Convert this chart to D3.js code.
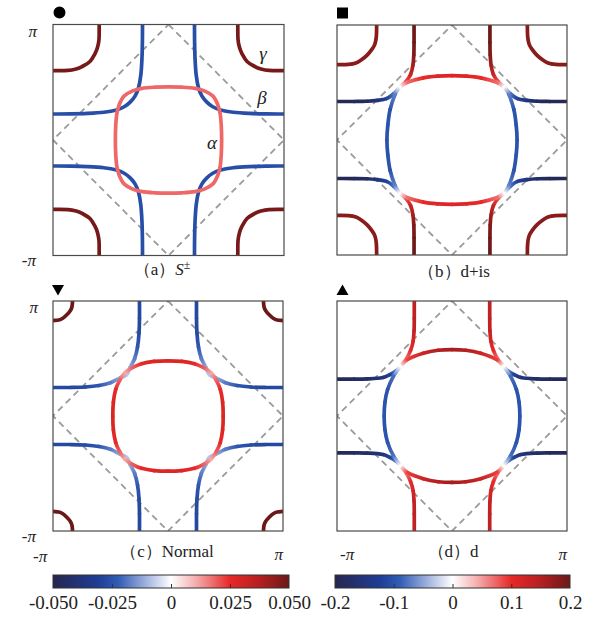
<!DOCTYPE html>
<html>
<head>
<meta charset="utf-8">
<script src="https://cdnjs.cloudflare.com/ajax/libs/d3/7.8.5/d3.min.js"></script>
<style>
body { margin: 0; background: #fff; }
text { font-family: 'Liberation Serif', 'DejaVu Serif', serif; }
</style>
</head>
<body>
<script>
const w = 590
const h = 617

// Fermi surface pieces, first quadrant only: [kx/pi, ky/pi, gap]
// they get mirrored into the other three quadrants

// (a) S+-
const aAlpha = [[0.46,0,0.018],[0.457,0.12,0.018],[0.447,0.23,0.018],[0.425,0.31,0.018],[0.385,0.38,0.018],
	[0.31,0.425,0.018],[0.23,0.447,0.018],[0.12,0.457,0.018],[0,0.46,0.018]]
const aBeta = [[0.225,1,-0.026],[0.226,0.85,-0.026],[0.23,0.7,-0.026],[0.24,0.56,-0.026],[0.26,0.45,-0.026],
	[0.29,0.38,-0.026],[0.33,0.33,-0.026],[0.38,0.29,-0.026],[0.45,0.26,-0.026],[0.56,0.24,-0.026],
	[0.7,0.23,-0.026],[0.85,0.226,-0.026],[1,0.225,-0.026]]
const aGamma = [[0.6,1,0.048],[0.602,0.87,0.048],[0.615,0.8,0.048],[0.636,0.748,0.048],[0.68,0.68,0.048],
	[0.748,0.636,0.048],[0.8,0.615,0.048],[0.87,0.602,0.048],[1,0.6,0.048]]

// (b) d+is
const bVArm = [[0.33,1,0.2],[0.33,0.85,0.195],[0.332,0.74,0.185],[0.34,0.65,0.16],[0.36,0.57,0.13],[0.40,0.51,0.085],[0.455,0.46,0]]
const bHArm = [[1,0.335,-0.195],[0.85,0.335,-0.19],[0.74,0.337,-0.18],[0.65,0.345,-0.15],[0.57,0.36,-0.12],[0.51,0.40,-0.08],[0.455,0.46,0]]
const bTopArc = [[0.455,0.46,0],[0.393,0.5,0.07],[0.25,0.54,0.1],[0.125,0.555,0.11],[0,0.559,0.11]]
const bSideArc = [[0.455,0.46,0],[0.495,0.395,-0.07],[0.538,0.265,-0.1],[0.558,0.13,-0.1],[0.566,0,-0.1]]
const bGamma = [[0.655,1,0.18],[0.658,0.9,0.18],[0.67,0.835,0.18],[0.695,0.79,0.18],[0.738,0.738,0.18],
	[0.79,0.695,0.18],[0.835,0.67,0.18],[0.9,0.658,0.18],[1,0.655,0.18]]

// (c) Normal
const cAlpha = [[0.48,0,0.028],[0.475,0.12,0.028],[0.455,0.23,0.025],[0.42,0.31,0.019],[0.375,0.375,0.011],
	[0.31,0.42,0.019],[0.23,0.455,0.025],[0.12,0.475,0.028],[0,0.48,0.028]]
const cBeta = [[0.248,1,-0.028],[0.248,0.85,-0.028],[0.252,0.72,-0.027],[0.265,0.6,-0.024],[0.29,0.5,-0.018],
	[0.33,0.42,-0.012],[0.36,0.36,-0.008],[0.42,0.33,-0.012],[0.5,0.29,-0.018],[0.6,0.265,-0.024],
	[0.72,0.252,-0.027],[0.85,0.248,-0.028],[1,0.248,-0.028]]
const cGamma = [[0.83,1,0.05],[0.835,0.95,0.05],[0.85,0.915,0.05],[0.88,0.88,0.05],[0.915,0.85,0.05],[0.95,0.835,0.05],[1,0.83,0.05]]

// (d) d
const dVArm = [[0.328,1,0.14],[0.328,0.85,0.14],[0.33,0.74,0.135],[0.338,0.65,0.12],[0.36,0.57,0.1],[0.395,0.5,0.07],[0.45,0.43,0]]
const dHArm = [[1,0.32,-0.19],[0.85,0.32,-0.185],[0.74,0.322,-0.175],[0.6,0.335,-0.15],[0.54,0.36,-0.12],[0.49,0.39,-0.08],[0.45,0.43,0]]
const dTopArc = [[0.45,0.43,0],[0.39,0.49,0.09],[0.25,0.545,0.13],[0.12,0.572,0.15],[0,0.578,0.16]]
const dSideArc = [[0.45,0.43,0],[0.51,0.345,-0.08],[0.56,0.23,-0.1],[0.583,0.12,-0.1],[0.59,0,-0.1]]

// colour bars
const leftTicks = [-0.05, -0.025, 0, 0.025, 0.05]
const leftTickLabels = ['-0.050', '-0.025', '0', '0.025', '0.050']
const rightTicks = [-0.2, -0.1, 0, 0.1, 0.2]
const rightTickLabels = ['-0.2', '-0.1', '0', '0.1', '0.2']

const cmapStops = [-1, -0.62, -0.45, -0.2, 0, 0.2, 0.5, 0.75, 1]
const cmapColors = ['#26264f', '#1f3d94', '#2f5cb5', '#a6b6e0', '#ffffff', '#f5b2b2', '#e82828', '#b52020', '#6b1818']

const svg = d3.select('body')
	.append('svg')
	.attr('width', w)
	.attr('height', h)

const defs = svg.append('defs')
let gid = 0

const mirror = (pts, sx, sy) => pts.map(p => [p[0]*sx, p[1]*sy, p[2]])

// turn a first-quadrant piece into the full set of curves
function expand(piece) {
	const p = piece.pts
	if (piece.type === 'loop') {
		const q2 = mirror(p, -1, 1).reverse().slice(1)
		const q3 = mirror(p, -1, -1).slice(1)
		const q4 = mirror(p, 1, -1).reverse().slice(1, -1)
		return [{ pts: p.concat(q2, q3, q4), closed: true }]
	}
	if (piece.type === 'arcx') {
		const full = p.concat(mirror(p, -1, 1).reverse().slice(1))
		return [{ pts: full }, { pts: mirror(full, 1, -1) }]
	}
	if (piece.type === 'arcy') {
		const full = p.concat(mirror(p, 1, -1).reverse().slice(1))
		return [{ pts: full }, { pts: mirror(full, -1, 1) }]
	}
	return [[1,1],[-1,1],[-1,-1],[1,-1]].map(s => ({ pts: mirror(p, s[0], s[1]) }))
}

const dist = (a, b) => Math.hypot(a[0]-b[0], a[1]-b[1])

function drawCurve(g, curve, x, y, color) {
	const pts = curve.pts.map(d => [x(d[0]), y(d[1]), d[2]])
	const n = pts.length
	const get = i => {
		if (curve.closed) return pts[(i + n) % n]
		if (i < 0) return [2*pts[0][0] - pts[1][0], 2*pts[0][1] - pts[1][1]]
		if (i >= n) return [2*pts[n-1][0] - pts[n-2][0], 2*pts[n-1][1] - pts[n-2][1]]
		return pts[i]
	}
	const segs = []
	const nseg = curve.closed ? n : n - 1
	for (let i = 0; i < nseg; i++) {
		const p0 = get(i-1), p1 = get(i), p2 = get(i+1), p3 = get(i+2)
		// chord-scaled tangents, so uneven spacing does not overshoot
		const d01 = dist(p0, p1), d12 = dist(p1, p2), d23 = dist(p2, p3)
		const k1 = d12 / (3 * (d01 + d12)), k2 = d12 / (3 * (d12 + d23))
		segs.push({ p1, p2,
			c1: [p1[0] + (p2[0]-p0[0])*k1, p1[1] + (p2[1]-p0[1])*k1],
			c2: [p2[0] - (p3[0]-p1[0])*k2, p2[1] - (p3[1]-p1[1])*k2] })
	}

	const uniform = pts.every(d => d[2] === pts[0][2])
	if (uniform) {
		// one path, one colour: no seams
		const path = d3.path()
		path.moveTo(segs[0].p1[0], segs[0].p1[1])
		segs.forEach(s => path.bezierCurveTo(s.c1[0], s.c1[1], s.c2[0], s.c2[1], s.p2[0], s.p2[1]))
		if (curve.closed) path.closePath()
		g.append('path')
			.attr('d', path.toString())
			.attr('fill', 'none')
			.attr('stroke', color(pts[0][2]))
			.attr('stroke-width', 3.7)
			.attr('stroke-linecap', 'round')
		return
	}

	segs.forEach(s => {
		const id = 'g' + (gid++)
		const grad = defs.append('linearGradient')
			.attr('id', id)
			.attr('gradientUnits', 'userSpaceOnUse')
			.attr('x1', s.p1[0]).attr('y1', s.p1[1])
			.attr('x2', s.p2[0]).attr('y2', s.p2[1])
		grad.append('stop').attr('offset', 0).attr('stop-color', color(s.p1[2]))
		grad.append('stop').attr('offset', 1).attr('stop-color', color(s.p2[2]))
		const path = d3.path()
		path.moveTo(s.p1[0], s.p1[1])
		path.bezierCurveTo(s.c1[0], s.c1[1], s.c2[0], s.c2[1], s.p2[0], s.p2[1])
		g.append('path')
			.attr('d', path.toString())
			.attr('fill', 'none')
			.attr('stroke', `url(#${id})`)
			.attr('stroke-width', 3.7)
			.attr('stroke-linecap', 'round')
	})
}

const panels = [
	{ x0: 53, y0: 24.5, size: 231, max: 0.05, marker: d3.symbolCircle, msize: 113, mx: 59.5, my: 12.5, rot: 0,
		pieces: [{ pts: aBeta }, { pts: aGamma }, { pts: aAlpha, type: 'loop' }],
		title: ['（a）', 'S', '±'], tx: 162, ty: 275 },
	{ x0: 337, y0: 25, size: 230, max: 0.2, marker: d3.symbolSquare, msize: 121, mx: 342.5, my: 13, rot: 0,
		pieces: [{ pts: bGamma }, { pts: bVArm }, { pts: bHArm }, { pts: bTopArc, type: 'arcx' }, { pts: bSideArc, type: 'arcy' }],
		title: ['（b）d+is'], tx: 454, ty: 277 },
	{ x0: 53, y0: 301, size: 230, max: 0.05, marker: d3.symbolTriangle, msize: 62, mx: 58, my: 288.5, rot: 180,
		pieces: [{ pts: cGamma }, { pts: cBeta }, { pts: cAlpha, type: 'loop' }],
		title: ['（c）Normal'], tx: 167, ty: 557 },
	{ x0: 337, y0: 301, size: 230, max: 0.2, marker: d3.symbolTriangle, msize: 62, mx: 342.5, my: 291.5, rot: 0,
		pieces: [{ pts: dVArm }, { pts: dHArm }, { pts: dTopArc, type: 'arcx' }, { pts: dSideArc, type: 'arcy' }],
		title: ['（d）d'], tx: 453, ty: 557 }
]

panels.forEach((p, k) => {
	const x = d3.scaleLinear().domain([-1, 1]).range([p.x0, p.x0 + p.size])
	const y = d3.scaleLinear().domain([-1, 1]).range([p.y0 + p.size, p.y0])
	const color = d3.scaleLinear()
		.domain(cmapStops.map(s => s * p.max))
		.range(cmapColors)
		.clamp(true)

	defs.append('clipPath').attr('id', 'clip' + k)
		.append('rect')
		.attr('x', p.x0).attr('y', p.y0)
		.attr('width', p.size).attr('height', p.size)

	const g = svg.append('g').attr('clip-path', `url(#clip${k})`)

	// zone boundary diamond
	g.append('path')
		.attr('d', d3.line().x(d => x(d[0])).y(d => y(d[1]))([[0,1],[1,0],[0,-1],[-1,0],[0,1]]))
		.attr('fill', 'none')
		.attr('stroke', '#9a9a9a')
		.attr('stroke-width', 1.8)
		.attr('stroke-dasharray', '6.5,4.5')

	p.pieces.forEach(piece => {
		expand(piece).forEach(c => drawCurve(g, c, x, y, color))
	})

	svg.append('rect')
		.attr('x', p.x0).attr('y', p.y0)
		.attr('width', p.size).attr('height', p.size)
		.attr('fill', 'none')
		.attr('stroke', '#4a4a4a')
		.attr('stroke-width', 1.2)

	svg.append('path')
		.attr('d', d3.symbol().type(p.marker).size(p.msize)())
		.attr('transform', `translate(${p.mx},${p.my}) rotate(${p.rot})`)
		.attr('fill', '#000')

	const t = svg.append('text')
		.attr('x', p.tx).attr('y', p.ty)
		.attr('text-anchor', 'middle')
		.attr('font-size', 17)
		.attr('fill', '#222')
	t.append('tspan').text(p.title[0])
	if (p.title.length > 1) {
		t.append('tspan').attr('font-style', 'italic').text(p.title[1])
		t.append('tspan').attr('font-size', 12).attr('dy', -6).text(p.title[2])
	}
})

// axis labels (pi)
const piLabels = [
	[37, 37, 'end', 'π'], [36, 266, 'end', '-π'],
	[38, 313, 'end', 'π'], [36, 542, 'end', '-π'],
	[33, 562, 'start', '-π'], [283, 560, 'end', 'π'],
	[340, 560, 'start', '-π'], [567, 560, 'end', 'π']
]
svg.selectAll('text.pi')
	.data(piLabels)
	.enter()
	.append('text')
	.attr('class', 'pi')
	.attr('x', d => d[0])
	.attr('y', d => d[1])
	.attr('text-anchor', d => d[2])
	.attr('font-size', 17)
	.attr('font-style', 'italic')
	.attr('fill', '#222')
	.text(d => d[3])

// band names in (a)
const bandLabels = [[263, 60, 'γ'], [262, 104, 'β'], [212, 149, 'α']]
svg.selectAll('text.band')
	.data(bandLabels)
	.enter()
	.append('text')
	.attr('class', 'band')
	.attr('x', d => d[0])
	.attr('y', d => d[1])
	.attr('text-anchor', 'middle')
	.attr('font-size', 19)
	.attr('font-style', 'italic')
	.attr('fill', '#222')
	.text(d => d[2])

// colour bars
const bars = [
	{ x0: 53, x1: 289, max: 0.05, ticks: leftTicks, labels: leftTickLabels },
	{ x0: 335, x1: 570, max: 0.2, ticks: rightTicks, labels: rightTickLabels }
]
bars.forEach((b, k) => {
	const grad = defs.append('linearGradient').attr('id', 'bar' + k)
	cmapStops.forEach((s, i) => {
		grad.append('stop')
			.attr('offset', (s + 1) / 2)
			.attr('stop-color', cmapColors[i])
	})
	svg.append('rect')
		.attr('x', b.x0).attr('y', 575)
		.attr('width', b.x1 - b.x0).attr('height', 13)
		.attr('fill', `url(#bar${k})`)
		.attr('stroke', '#333')
		.attr('stroke-width', 1)

	const scale = d3.scaleLinear().domain([-b.max, b.max]).range([b.x0, b.x1])
	const axis = d3.axisBottom(scale)
		.tickValues(b.ticks)
		.tickFormat((d, i) => b.labels[i])
		.tickSize(-4)
		.tickSizeOuter(0)
		.tickPadding(8)
	const ax = svg.append('g')
		.attr('transform', 'translate(0,588)')
		.call(axis)
	ax.select('.domain').remove()
	ax.selectAll('.tick line')
		.attr('stroke', '#333')
		.filter((d, i) => i === 0 || i === b.ticks.length - 1)
		.remove()
	ax.selectAll('.tick text')
		.attr('font-family', "'Liberation Serif', serif")
		.attr('font-size', 19)
		.attr('fill', '#222')
})
</script>
</body>
</html>
